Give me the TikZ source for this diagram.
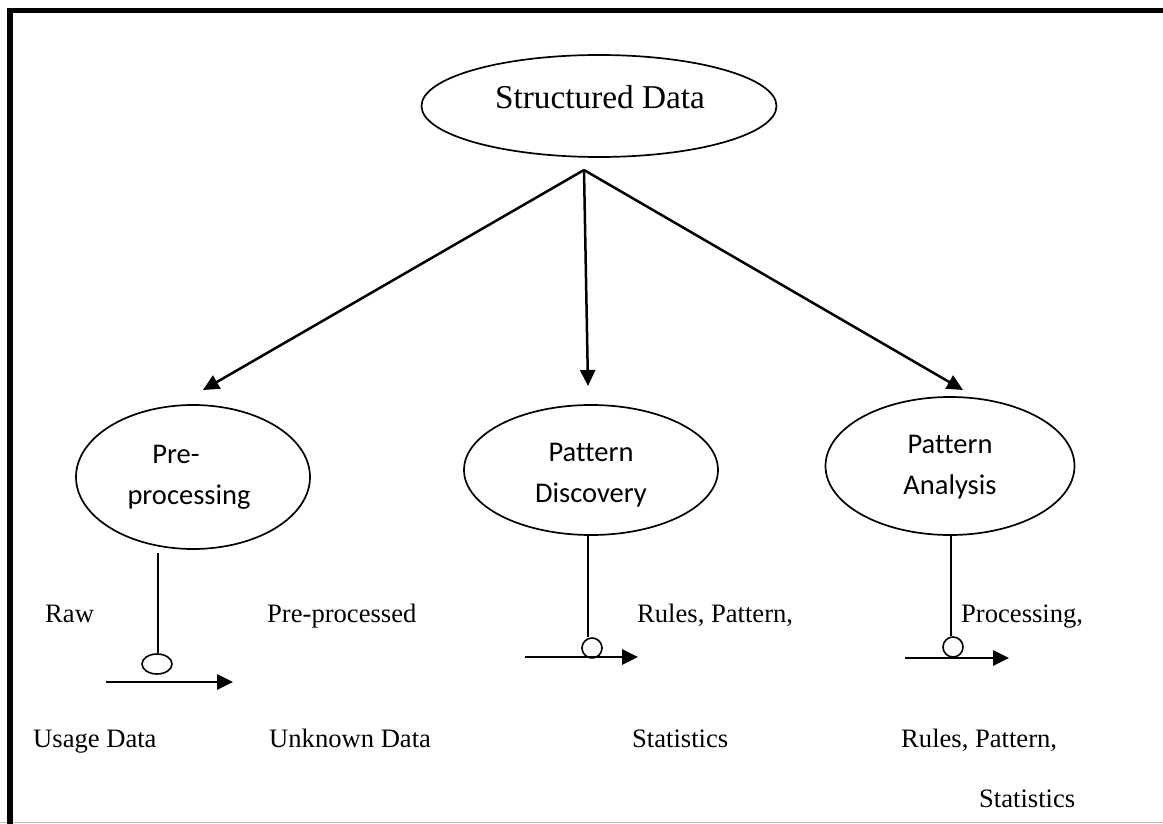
\documentclass[tikz,border=0pt]{standalone}
\usepackage{fontspec}
\setmainfont{Liberation Serif}
\newfontfamily\calibrifont[Ligatures=NoCommon]{Carlito}
\usetikzlibrary{arrows.meta,shapes.geometric}

\begin{document}
\begin{tikzpicture}[x=1pt,y=-1pt,
  bubble/.style={draw,ellipse,line width=1.7pt,inner sep=0pt},
  bubbletext/.style={inner sep=0pt,align=center,
    font=\calibrifont\fontsize{28.5}{41}\selectfont},
  txt/.style={inner sep=0pt,anchor=base west,
    font=\fontsize{26.6}{32}\selectfont},
  flow/.style={line width=2.5pt,-{Triangle[length=16pt,width=15pt]}},
  stem/.style={line width=1.5pt},
  knob/.style={draw,ellipse,line width=1.6pt,inner sep=0pt}]

  % page frame
  \useasboundingbox (0,0) rectangle (1163,824);
  \draw[black!25,line width=1.5pt] (0,822.5) -- (1163,822.5);
  \draw[line width=5.5pt,line join=miter] (10,824) -- (10,10.5) -- (1163,10.5);

  % top node
  \node[bubble,minimum width=355pt,minimum height=102pt] (sd) at (599,106) {};
  \node[inner sep=0pt,anchor=base,font=\fontsize{33.3}{40}\selectfont] (sdT) at (600,109) {Structured Data};

  % three stages
  \node[bubble,minimum width=234pt,minimum height=144pt] (pre) at (193,477) {};
  \node[bubbletext] (preT) at (189,477) {Pre-\hspace*{26pt}\\processing};

  \node[bubble,minimum width=254pt,minimum height=130pt] (disc) at (591,470) {};
  \node[bubbletext] (discT) at (591,475) {Pattern\\Discovery};

  \node[bubble,minimum width=249pt,minimum height=138pt] (ana) at (950,466) {};
  \node[bubbletext] (anaT) at (950,467) {Pattern\\Analysis};

  % arrows from the top node
  \coordinate (apex) at (584,170);
  \coordinate (preIn) at (203,390);
  \coordinate (discIn) at (588,386);
  \coordinate (anaIn) at (963,390);
  \draw[flow] (apex) -- (preIn);
  \draw[flow] (apex) -- (discIn);
  \draw[flow] (apex) -- (anaIn);

  % stems with knobs and output arrows
  \node[knob,minimum width=30pt,minimum height=20pt] (k1) at (157,664) {};
  \node[knob,minimum width=20pt,minimum height=20pt] (k2) at (592,648) {};
  \node[knob,minimum width=20pt,minimum height=20pt] (k3) at (953,647) {};

  \coordinate (s1) at (158,553);
  \coordinate (s2) at (588,535);
  \coordinate (s3) at (951,535);
  \draw[stem] (s1) -- (s1 |- k1.north);
  \draw[stem] (s2) -- (s2 |- k2.north);
  \draw[stem] (s3) -- (s3 |- k3.north);

  \coordinate (a1) at (106,682);
  \coordinate (b1) at (233,682);
  \coordinate (a2) at (525,657);
  \coordinate (b2) at (638,657);
  \coordinate (a3) at (905,658);
  \coordinate (b3) at (1009,658);
  \draw[flow,line width=2.7pt] (a1) -- (b1);
  \draw[flow,line width=2.7pt] (a2) -- (b2);
  \draw[flow,line width=2.7pt] (a3) -- (b3);

  % labels
  \node[txt] (raw) at (45,622) {Raw};
  \node[txt] (usage) at (33,747) {Usage Data};
  \node[txt] (prep) at (267,622) {Pre-processed};
  \node[txt] (unk) at (269,747) {Unknown Data};
  \node[txt] (rules1) at (637,622) {Rules, Pattern,};
  \node[txt] (stat1) at (632,747) {Statistics};
  \node[txt] (proc) at (961,622) {Processing,};
  \node[txt] (rules2) at (901,747) {Rules, Pattern,};
  \node[txt] (stat2) at (979,807) {Statistics};
\end{tikzpicture}
\end{document}
